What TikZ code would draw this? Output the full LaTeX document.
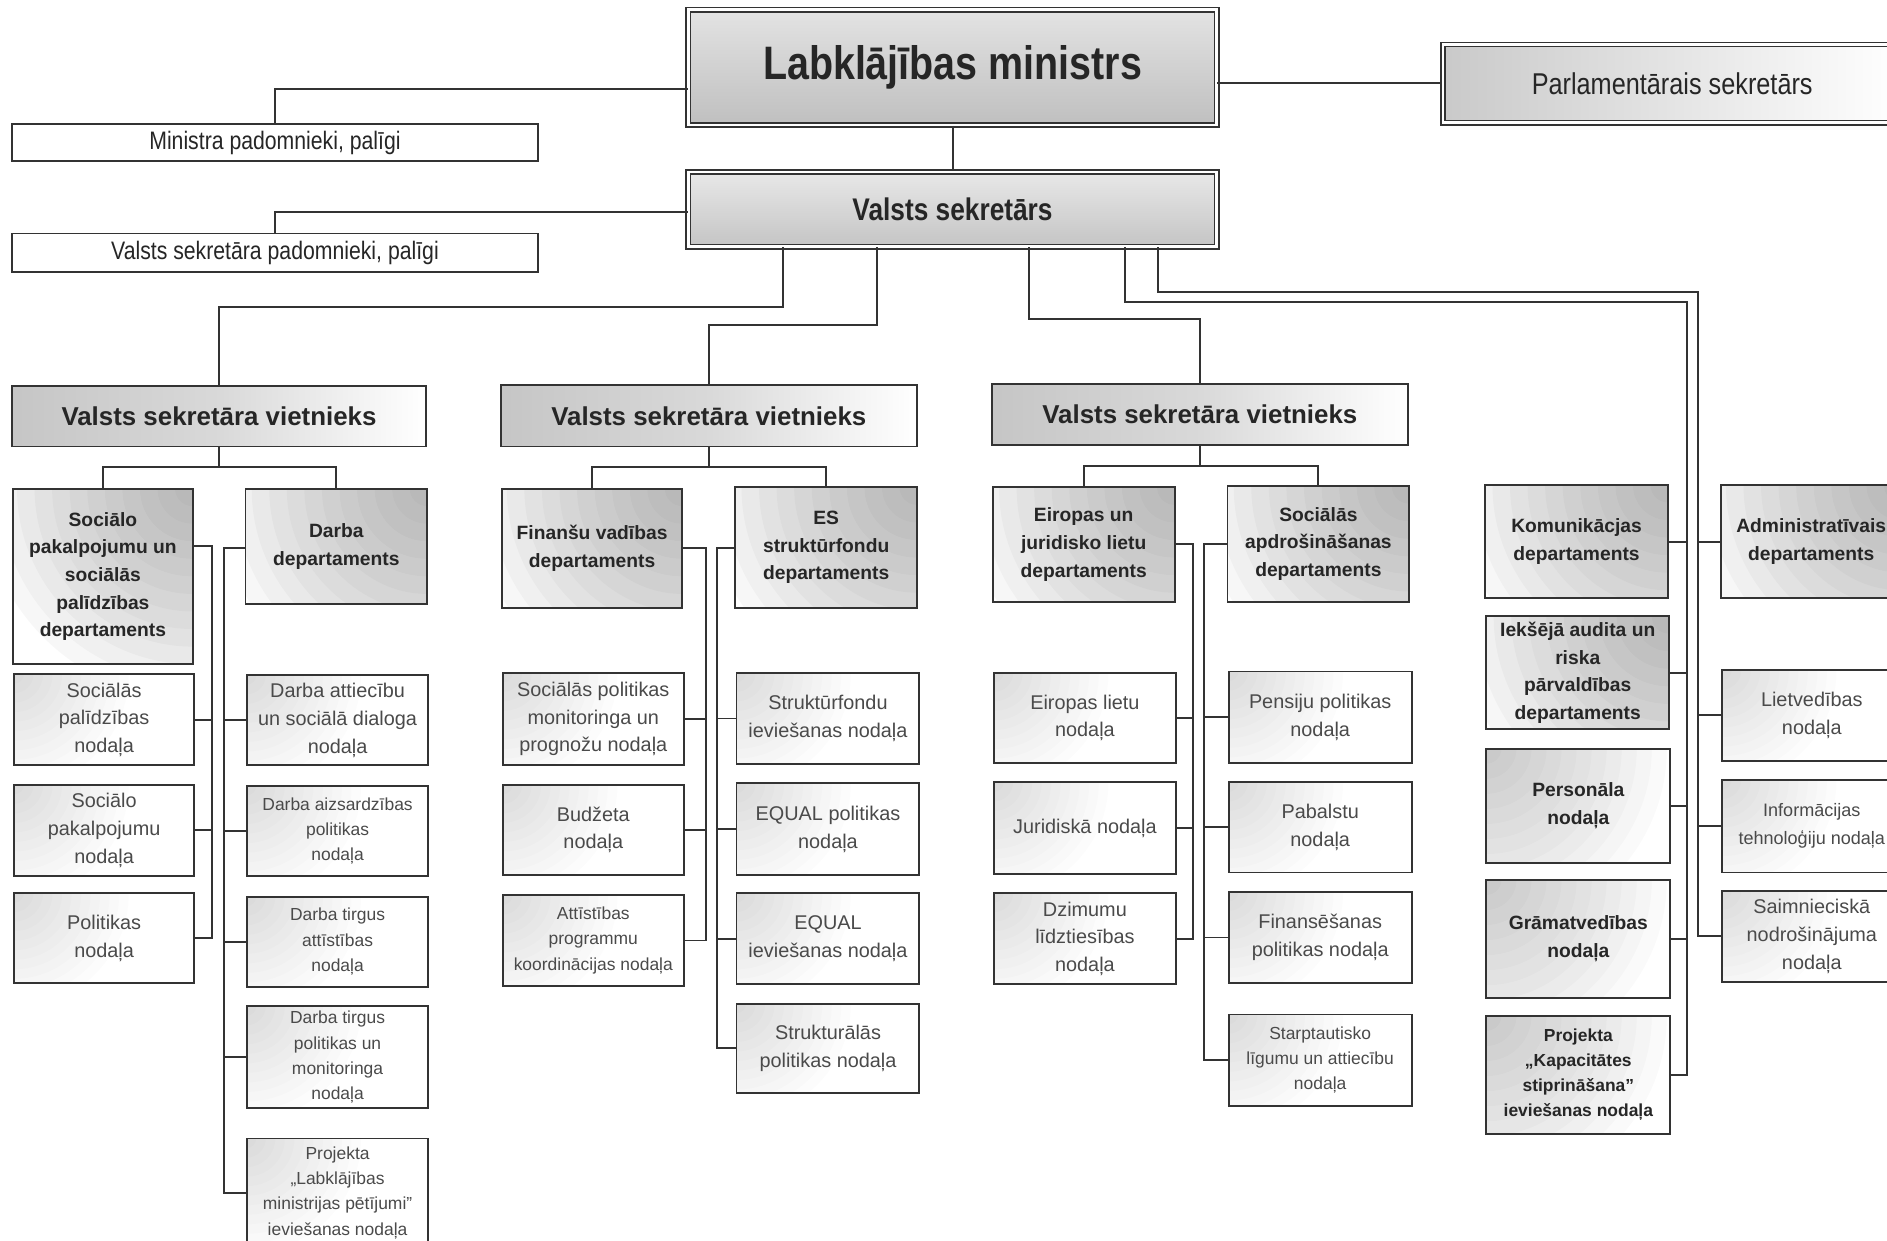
\documentclass[tikz,border=0pt]{standalone}
\usepackage{fontspec}
\setmainfont{Liberation Sans}
\newfontfamily\nar[FakeStretch=0.84]{Liberation Sans}
\definecolor{lc}{HTML}{333333}
\definecolor{tc}{HTML}{262626}
\definecolor{nc}{HTML}{4a4a4a}
% box from (x1,y1) to (x2,y2), y measured downwards from the top edge
\newcommand\bx[7]{%
  \pgfmathsetmacro\bxw{#4-#2}%
  \pgfmathsetmacro\bxh{#5-#3}%
  \pgfmathsetmacro\bxcx{(#2+#4)/2}%
  \pgfmathsetmacro\bxcy{-(#3+#5)/2}%
  \node[#6, minimum width=\bxw pt, minimum height=\bxh pt] (#1) at (\bxcx,\bxcy) {#7};}
\tikzset{
  % stepped gray fade from a corner: #1 anchor, #2 radius, #3 opacity per step
  fade/.style n args={3}{fill=white, path picture={
      \foreach \k in {1,...,12}{
        \fill[gray, opacity=#3] (path picture bounding box.#1) circle ({\k*#2/12});}}},
  conn/.style={draw=lc, line width=1.6pt},
  box/.style={draw=lc, line width=1.6pt, inner sep=1pt, align=center, text=tc},
  dept/.style={box, font=\bfseries\fontsize{16}{23}\selectfont, fade={north east}{175}{0.06}},
  deptl/.style={box, font=\bfseries\fontsize{16}{24}\selectfont, fade={north west}{150}{0.04}},
  deptls/.style={deptl, font=\bfseries\fontsize{14.5}{20.7}\selectfont},
  nod/.style={box, text=nc, font=\fontsize{16.5}{23}\selectfont, fade={north west}{95}{0.022}},
  nods/.style={nod, font=\fontsize{14.5}{21}\selectfont},
  vsv/.style={box, font=\bfseries\fontsize{21.5}{26}\selectfont,
    left color=gray!45, right color=white, middle color=gray!30},
  dbl/.style={draw=lc, line width=1.3pt, double=white, double distance=2.2pt, inner sep=1pt, align=center, text=tc},
  plain/.style={draw=lc, line width=1.5pt, fill=white, inner sep=1pt, text=tc,
    font=\nar\fontsize{21}{24}\selectfont},
}
\begin{document}
\begin{tikzpicture}[x=1pt, y=1pt]
\fill[white] (0,0) rectangle (1568,-1031);
\useasboundingbox (0,0) rectangle (1568,-1031);

% top level
\bx{min}{572}{8}{1011}{104}{dbl, top color=gray!22, bottom color=gray!50, font=\nar\bfseries\fontsize{39}{44}\selectfont}{Labklājības ministrs}
\bx{parl}{1199}{37}{1580}{102}{dbl, left color=gray!42, right color=white, font=\nar\fontsize{25}{28}\selectfont}{Parlamentārais sekretārs}
\bx{pad1}{10}{103}{447}{134}{plain}{Ministra padomnieki, palīgi}
\bx{vs}{572}{143}{1011}{205}{dbl, top color=gray!18, bottom color=gray!46, font=\nar\bfseries\fontsize{26}{30}\selectfont}{Valsts sekretārs}
\bx{pad2}{10}{194}{447}{226}{plain}{Valsts sekretāra padomnieki, palīgi}

\draw[conn] (min.east |- 0,-69) -- (parl.west |- 0,-69);
\draw[conn] (min.west |- 0,-74) -| (pad1.north);
\draw[conn] (min.south) -- (vs.north);
\draw[conn] (vs.west |- 0,-176) -| (pad2.north);

% deputies
\bx{v1}{10}{321}{354}{371}{vsv}{Valsts sekretāra vietnieks}
\bx{v2}{416}{320}{762}{371}{vsv}{Valsts sekretāra vietnieks}
\bx{v3}{824}{319}{1170}{370}{vsv}{Valsts sekretāra vietnieks}

\draw[conn] (vs.south -| 651,0) |- (v1.north |- 0,-255) -- (v1.north);
\draw[conn] (vs.south -| 729,0) |- (v2.north |- 0,-270) -- (v2.north);
\draw[conn] (vs.south -| 855,0) |- (v3.north |- 0,-265) -- (v3.north);

% ---- deputy 1
\bx{d11}{11}{406}{160}{552}{dept}{Sociālo\\pakalpojumu un\\sociālās\\palīdzības\\departaments}
\bx{d12}{204}{406}{355}{502}{dept}{Darba\\departaments}
\coordinate (j1) at (182,-388);
\draw[conn] (v1.south) -- (j1);
\draw[conn] (d11.north) |- (j1) -| (d12.north);

\bx{n111}{12}{560}{161}{636}{nod}{Sociālās\\palīdzības\\nodaļa}
\bx{n112}{12}{652}{161}{728}{nod}{Sociālo\\pakalpojumu\\nodaļa}
\bx{n113}{12}{742}{161}{817}{nod}{Politikas\\nodaļa}
\bx{n121}{205}{561}{356}{636}{nod}{Darba attiecību\\un sociālā dialoga\\nodaļa}
\bx{n122}{205}{653}{356}{728}{nods}{Darba aizsardzības\\politikas\\nodaļa}
\bx{n123}{205}{745}{356}{820}{nods}{Darba tirgus\\attīstības\\nodaļa}
\bx{n124}{205}{836}{356}{921}{nods}{Darba tirgus\\politikas un\\monitoringa\\nodaļa}
\bx{n125}{205}{946}{356}{1036}{nods}{Projekta\\„Labklājības\\ministrijas pētījumi”\\ieviešanas nodaļa}

\draw[conn] (d11.east |- 0,-454) -- (176,-454) |- (n113.east);
\foreach \n in {n111,n112} \draw[conn] (\n.east) -- (\n.east -| 176,0);
\draw[conn] (d12.west |- 0,-455) -- (186,-455) |- (n125.west);
\foreach \n in {n121,n122,n123,n124} \draw[conn] (\n.west) -- (\n.west -| 186,0);

% ---- deputy 2
\bx{d21}{417}{406}{567}{505}{dept}{Finanšu vadības\\departaments}
\bx{d22}{611}{405}{762}{505}{dept}{ES\\struktūrfondu\\departaments}
\coordinate (j2) at (589,-388);
\draw[conn] (v2.south) -- (j2);
\draw[conn] (d21.north) |- (j2) -| (d22.north);

\bx{n211}{418}{559}{568}{636}{nod}{Sociālās politikas\\monitoringa un\\prognožu nodaļa}
\bx{n212}{418}{652}{568}{727}{nod}{Budžeta\\nodaļa}
\bx{n213}{418}{744}{568}{819}{nods}{Attīstības\\programmu\\koordinācijas nodaļa}
\bx{n221}{612}{559}{764}{635}{nod}{Struktūrfondu\\ieviešanas nodaļa}
\bx{n222}{612}{651}{764}{727}{nod}{EQUAL politikas\\nodaļa}
\bx{n223}{612}{742}{764}{818}{nod}{EQUAL\\ieviešanas nodaļa}
\bx{n224}{612}{834}{764}{908}{nod}{Strukturālās\\politikas nodaļa}

\draw[conn] (d21.east |- 0,-455) -- (587,-455) |- (n213.east);
\foreach \n in {n211,n212} \draw[conn] (\n.east) -- (\n.east -| 587,0);
\draw[conn] (d22.west |- 0,-455) -- (596,-455) |- (n224.west);
\foreach \n in {n221,n222,n223} \draw[conn] (\n.west) -- (\n.west -| 596,0);

% ---- deputy 3
\bx{d31}{825}{405}{976}{500}{dept}{Eiropas un\\juridisko lietu\\departaments}
\bx{d32}{1020}{404}{1171}{500}{dept}{Sociālās\\apdrošināšanas\\departaments}
\coordinate (j3) at (997,-387);
\draw[conn] (v3.south) -- (j3);
\draw[conn] (d31.north) |- (j3) -| (d32.north);

\bx{n311}{826}{559}{977}{634}{nod}{Eiropas lietu\\nodaļa}
\bx{n312}{826}{650}{977}{726}{nod}{Juridiskā nodaļa}
\bx{n313}{826}{742}{977}{818}{nod}{Dzimumu\\līdztiesības\\nodaļa}
\bx{n321}{1021}{558}{1173}{634}{nod}{Pensiju politikas\\nodaļa}
\bx{n322}{1021}{650}{1173}{725}{nod}{Pabalstu\\nodaļa}
\bx{n323}{1021}{741}{1173}{817}{nod}{Finansēšanas\\politikas nodaļa}
\bx{n324}{1021}{843}{1173}{919}{nods}{Starptautisko\\līgumu un attiecību\\nodaļa}

\draw[conn] (d31.east |- 0,-452) -- (991.5,-452) |- (n313.east);
\foreach \n in {n311,n312} \draw[conn] (\n.east) -- (\n.east -| 991.5,0);
\draw[conn] (d32.west |- 0,-452) -- (1000.5,-452) |- (n324.west);
\foreach \n in {n321,n322,n323} \draw[conn] (\n.west) -- (\n.west -| 1000.5,0);

% ---- directly under state secretary
\bx{kom}{1234}{403}{1386}{497}{dept}{Komunikācjas\\departaments}
\bx{iek}{1235}{512}{1387}{606}{dept}{Iekšējā audita un\\riska\\pārvaldības\\departaments}
\bx{pers}{1235}{622}{1388}{717}{deptl}{Personāla\\nodaļa}
\bx{gram}{1235}{731}{1388}{829}{deptl}{Grāmatvedības\\nodaļa}
\bx{kap}{1235}{844}{1388}{942}{deptls}{Projekta\\„Kapacitātes\\stiprināšana”\\ieviešanas nodaļa}
\bx{adm}{1430}{403}{1580}{497}{dept}{Administratīvais\\departaments}
\bx{liet}{1431}{557}{1580}{632}{nod}{Lietvedības\\nodaļa}
\bx{info}{1431}{648}{1580}{725}{nod, font=\fontsize{15}{23}\selectfont}{Informācijas\\tehnoloģiju nodaļa}
\bx{saim}{1431}{740}{1580}{816}{nod}{Saimnieciskā\\nodrošinājuma\\nodaļa}

\coordinate (bi) at (1402,-251);
\coordinate (bo) at (1411,-243);
\draw[conn] (vs.south -| 935,0) |- (bi) |- (kap.east);
\draw[conn] (vs.south -| 962,0) |- (bo) |- (saim.west);
\foreach \n in {kom,iek,pers,gram} \draw[conn] (\n.east) -- (\n.east -| bi);
\foreach \n in {adm,liet,info} \draw[conn] (\n.west) -- (\n.west -| bo);
\end{tikzpicture}
\end{document}
